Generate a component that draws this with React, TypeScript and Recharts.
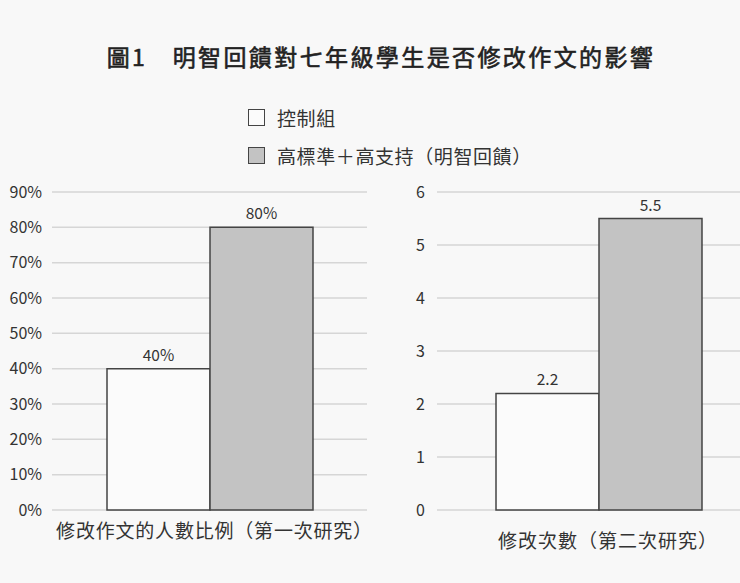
import React from 'react';
import { BarChart, Bar, XAxis, YAxis, CartesianGrid, LabelList } from 'recharts';

const SERIES_NAMES = ['控制組', '高標準＋高支持（明智回饋）'];
const STUDY1_CATEGORY = ['修改作文的人數比例（第一次研究）'];
const STUDY1_CONTROL = [40];
const STUDY1_WISE = [80];
const STUDY1_TICKS = [0, 10, 20, 30, 40, 50, 60, 70, 80, 90];
const STUDY2_CATEGORY = ['修改次數（第二次研究）'];
const STUDY2_CONTROL = [2.2];
const STUDY2_WISE = [5.5];
const STUDY2_TICKS = [0, 1, 2, 3, 4, 5, 6];

const FONT = '"Noto Sans CJK TC", "Noto Sans", sans-serif';
const BG = '#f8f8f8';
const TEXT = '#333';
const GRID = '#d6d6d6';
const STROKE = '#444';
const WHITE_FILL = '#fbfbfb';
const GRAY_FILL = '#c3c3c3';

const study1 = STUDY1_CATEGORY.map((name, i) => ({ name, control: STUDY1_CONTROL[i], wise: STUDY1_WISE[i] }));
const study2 = STUDY2_CATEGORY.map((name, i) => ({ name, control: STUDY2_CONTROL[i], wise: STUDY2_WISE[i] }));

function LegendBox({ fill }: { fill: string }) {
  return (
    <span
      style={{
        display: 'inline-block',
        width: 15,
        height: 15,
        border: `1.5px solid ${STROKE}`,
        background: fill,
        marginRight: 12,
        verticalAlign: 'middle',
      }}
    />
  );
}

export default function App() {
  return (
    <div
      style={{
        position: 'absolute',
        left: 0,
        top: 0,
        width: 740,
        height: 583,
        overflow: 'hidden',
        background: BG,
        fontFamily: FONT,
        color: TEXT,
      }}
    >
      <div
        style={{
          position: 'absolute',
          left: 0,
          top: 39,
          width: 762,
          textAlign: 'center',
          fontSize: 23,
          fontWeight: 400,
          letterSpacing: 2.4,
          color: '#222',
          lineHeight: '34px',
          WebkitTextStroke: '0.6px #222',
        }}
      >
        圖1　明智回饋對七年級學生是否修改作文的影響
      </div>
      <div style={{ position: 'absolute', left: 248, top: 100, fontSize: 19, letterSpacing: 0.6, lineHeight: '30px' }}>
        <div>
          <LegendBox fill={WHITE_FILL} />
          <span style={{ verticalAlign: 'middle' }}>{SERIES_NAMES[0]}</span>
        </div>
        <div style={{ marginTop: 5 }}>
          <LegendBox fill={GRAY_FILL} />
          <span style={{ verticalAlign: 'middle' }}>{SERIES_NAMES[1]}</span>
        </div>
      </div>

      <div style={{ position: 'absolute', left: 0, top: 170 }}>
        <BarChart
          width={380}
          height={390}
          data={study1}
          margin={{ top: 22, right: 13, bottom: 0, left: 0 }}
          barGap={0}
          barSize={103}
        >
          <CartesianGrid vertical={false} stroke={GRID} strokeWidth={1.5} />
          <XAxis
            dataKey="name"
            axisLine={false}
            tickLine={false}
            height={50}
            tickMargin={9}
            tick={{ fontSize: 19, fill: TEXT, fontFamily: FONT, letterSpacing: 0.8, dx: 5 }}
          />
          <YAxis
            width={52}
            domain={[0, 90]}
            ticks={STUDY1_TICKS}
            axisLine={false}
            tickLine={false}
            tickMargin={4}
            tickFormatter={(v: number) => `${v}%`}
            tick={{ fontSize: 16, fill: TEXT, fontFamily: FONT }}
          />
          <Bar dataKey="control" fill={WHITE_FILL} stroke={STROKE} strokeWidth={1.5} isAnimationActive={false}>
            <LabelList dataKey="control" position="top" offset={8} formatter={(v: number) => `${v}%`} style={{ fontSize: 15.5, fill: TEXT, fontFamily: FONT }} />
          </Bar>
          <Bar dataKey="wise" fill={GRAY_FILL} stroke={STROKE} strokeWidth={1.5} isAnimationActive={false}>
            <LabelList dataKey="wise" position="top" offset={8} formatter={(v: number) => `${v}%`} style={{ fontSize: 15.5, fill: TEXT, fontFamily: FONT }} />
          </Bar>
        </BarChart>
      </div>

      <div style={{ position: 'absolute', left: 380, top: 170 }}>
        <BarChart
          width={381}
          height={400}
          data={study2}
          margin={{ top: 22, right: 0, bottom: 0, left: 0 }}
          barGap={0}
          barSize={103}
        >
          <CartesianGrid vertical={false} stroke={GRID} strokeWidth={1.5} />
          <XAxis
            dataKey="name"
            axisLine={false}
            tickLine={false}
            height={60}
            tickMargin={19}
            tick={{ fontSize: 19, fill: TEXT, fontFamily: FONT, letterSpacing: 1, dx: 9 }}
          />
          <YAxis
            width={57}
            domain={[0, 6]}
            ticks={STUDY2_TICKS}
            axisLine={false}
            tickLine={false}
            tickMargin={6}
            tick={{ fontSize: 16, fill: TEXT, fontFamily: FONT }}
          />
          <Bar dataKey="control" fill={WHITE_FILL} stroke={STROKE} strokeWidth={1.5} isAnimationActive={false}>
            <LabelList dataKey="control" position="top" offset={8} style={{ fontSize: 15.5, fill: TEXT, fontFamily: FONT }} />
          </Bar>
          <Bar dataKey="wise" fill={GRAY_FILL} stroke={STROKE} strokeWidth={1.5} isAnimationActive={false}>
            <LabelList dataKey="wise" position="top" offset={8} style={{ fontSize: 15.5, fill: TEXT, fontFamily: FONT }} />
          </Bar>
        </BarChart>
      </div>
    </div>
  );
}
